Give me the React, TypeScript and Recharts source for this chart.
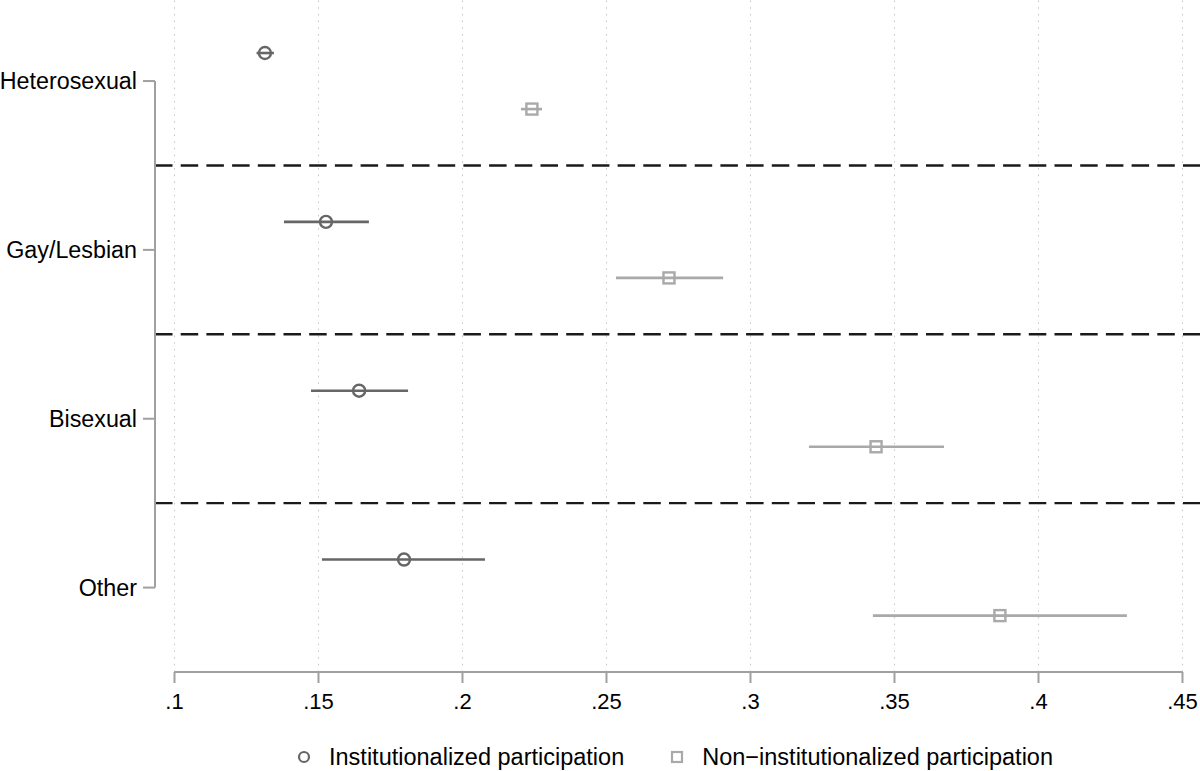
import React from 'react';
import {
  ScatterChart,
  Scatter,
  XAxis,
  YAxis,
  ReferenceLine,
  ErrorBar,
} from 'recharts';

// Categories, top to bottom
const categories = ['Heterosexual', 'Gay/Lesbian', 'Bisexual', 'Other'];

// Institutionalized participation: estimate and 95% CI
const instEst = [0.1314, 0.1526, 0.1641, 0.1797];
const instLo = [0.1285, 0.138, 0.1474, 0.1512];
const instHi = [0.1345, 0.1675, 0.1811, 0.2078];

// Non-institutionalized participation: estimate and 95% CI
const nonEst = [0.2241, 0.2717, 0.3436, 0.3866];
const nonLo = [0.2203, 0.2533, 0.3203, 0.3425];
const nonHi = [0.2276, 0.2905, 0.3672, 0.4307];

const xTicks = [0.1, 0.15, 0.2, 0.25, 0.3, 0.35, 0.4, 0.45];

// layout
const X_MIN = 0.09323;
const X_MAX = 0.45608;
const Y_MIN = 0.52;
const Y_MAX = 4.5;
const OFFSET = 0.166;

const FONT = '"Liberation Sans", Arial, Helvetica, sans-serif';
const DARK = '#666666';
const LIGHT = '#a9a9a9';
const AXIS = '#a0a0a0';

const toRows = (est: number[], lo: number[], hi: number[], shift: number) =>
  categories.map((name, i) => ({
    name,
    x: est[i],
    y: i + 1 + shift,
    err: [est[i] - lo[i], hi[i] - est[i]],
  }));

const instRows = toRows(instEst, instLo, instHi, -OFFSET);
const nonRows = toRows(nonEst, nonLo, nonHi, OFFSET);

const separators = categories.slice(1).map((_, i) => i + 1.5);

const CircleShape = (props: any) => (
  <circle cx={props.cx} cy={props.cy} r={6} fill="none" stroke={DARK} strokeWidth={2.4} />
);

const SquareShape = (props: any) => (
  <rect x={props.cx - 5.5} y={props.cy - 5.5} width={11} height={11} fill="none" stroke={LIGHT} strokeWidth={2.4} />
);

const fmtX = (v: number) => String(v).replace(/^0/, '');

export default function App() {
  return (
    <div style={{ position: 'absolute', left: 0, top: 0, width: 1200, height: 771, background: '#fff', fontFamily: FONT }}>
      <ScatterChart width={1200} height={771} margin={{ top: 0, right: 0, bottom: 59, left: 0 }}>
        {/* dotted vertical grid at each x tick */}
        {xTicks.map((t) => (
          <ReferenceLine key={'g' + t} x={t} stroke="#c4c4c4" strokeWidth={1} strokeDasharray="1.5 5.2" />
        ))}
        <XAxis
          type="number"
          dataKey="x"
          domain={[X_MIN, X_MAX]}
          allowDataOverflow
          ticks={xTicks}
          tickFormatter={fmtX}
          axisLine={false}
          tickLine={{ stroke: AXIS, strokeWidth: 2 }}
          tickSize={11}
          tickMargin={10}
          height={40}
          interval={0}
          tick={{ fill: '#000', fontSize: 22, fontFamily: FONT }}
        />
        <YAxis
          type="number"
          dataKey="y"
          domain={[Y_MIN, Y_MAX]}
          allowDataOverflow
          reversed
          ticks={[1, 2, 3, 4]}
          tickFormatter={(v: number) => categories[v - 1] ?? ''}
          axisLine={false}
          tickLine={{ stroke: AXIS, strokeWidth: 2 }}
          tickSize={12}
          tickMargin={6}
          width={155}
          interval={0}
          tick={{ fill: '#000', fontSize: 23.3, fontFamily: FONT }}
        />
        {separators.map((s) => (
          <ReferenceLine key={s} y={s} stroke="#1a1a1a" strokeWidth={2.4} strokeDasharray="17.5 8.2" />
        ))}
        <ReferenceLine
          segment={[{ x: X_MIN, y: 1 }, { x: X_MIN, y: 4 }]}
          stroke={AXIS}
          strokeWidth={2}
          ifOverflow="visible"
        />
        <ReferenceLine
          segment={[{ x: xTicks[0], y: Y_MAX }, { x: xTicks[xTicks.length - 1], y: Y_MAX }]}
          stroke={AXIS}
          strokeWidth={2}
          ifOverflow="visible"
        />
        <Scatter name="Institutionalized participation" data={instRows} shape={CircleShape} isAnimationActive={false}>
          <ErrorBar dataKey="err" direction="x" width={0} stroke={DARK} strokeWidth={2.6} isAnimationActive={false} />
        </Scatter>
        <Scatter name="Non-institutionalized participation" data={nonRows} shape={SquareShape} isAnimationActive={false}>
          <ErrorBar dataKey="err" direction="x" width={0} stroke={LIGHT} strokeWidth={2.6} isAnimationActive={false} />
        </Scatter>
      </ScatterChart>
      <div
        style={{
          position: 'absolute',
          left: 297,
          top: 743,
          height: 28,
          display: 'flex',
          alignItems: 'center',
          fontSize: 23.5,
          color: '#000',
          whiteSpace: 'nowrap',
        }}
      >
        <svg width={14} height={14} style={{ marginRight: 18 }}>
          <circle cx={7} cy={7} r={5} fill="none" stroke={DARK} strokeWidth={2.2} />
        </svg>
        <span>Institutionalized participation</span>
        <svg width={14} height={14} style={{ marginLeft: 46, marginRight: 18 }}>
          <rect x={2} y={2} width={10} height={10} fill="none" stroke={LIGHT} strokeWidth={2.2} />
        </svg>
        <span>Non−institutionalized participation</span>
      </div>
    </div>
  );
}
